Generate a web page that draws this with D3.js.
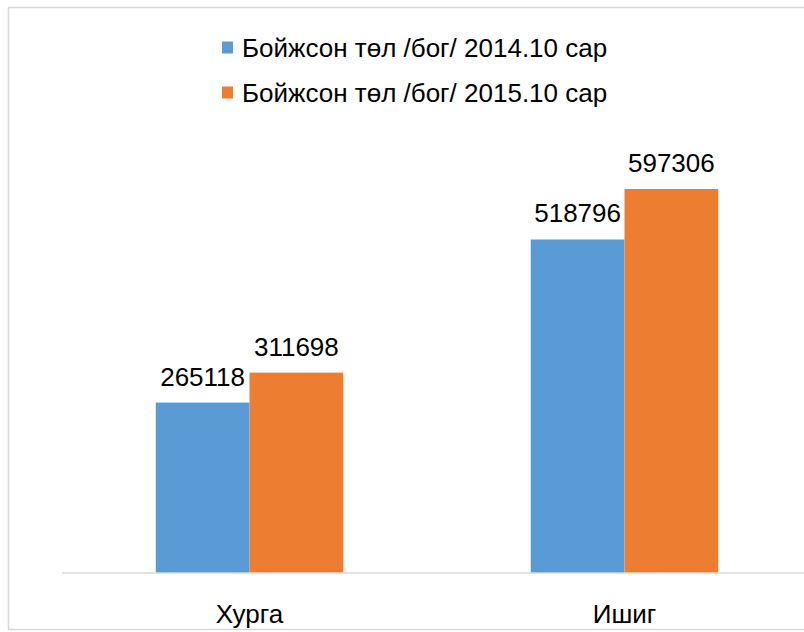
<!DOCTYPE html>
<html>
<head>
<meta charset="utf-8">
<script src="https://cdn.jsdelivr.net/npm/d3@7"></script>
<style>
  body { margin: 0; background: #fff; }
  svg { display: block; font-family: "Liberation Sans", Arial, sans-serif; }
  .axis path { stroke: #d9d9d9; stroke-width: 1.5; }
  .axis text { font-size: 26px; fill: #000; }
</style>
</head>
<body>
<div id="chart"></div>
<script>
// Data
var categories = ['Хурга', 'Ишиг'];
var seriesNames = ['Бойжсон төл /бог/ 2014.10 сар', 'Бойжсон төл /бог/ 2015.10 сар'];
var values2014 = [265118, 518796];
var values2015 = [311698, 597306];
var colors = ['#5b9bd5', '#ed7d31'];

var width = 804, height = 632;
var plot = {left: 62, right: 812, top: 123, bottom: 573};

var svg = d3.select('#chart').append('svg')
  .attr('width', width)
  .attr('height', height);

// chart frame
svg.append('rect')
  .attr('x', 8.5).attr('y', 7.5)
  .attr('width', 810).attr('height', 622)
  .attr('fill', 'none')
  .attr('stroke', '#d9d9d9')
  .attr('stroke-width', 1.5);

var x = d3.scaleBand().domain(categories).range([plot.left, plot.right]);
var xSub = d3.scaleBand().domain(seriesNames).range([0, x.bandwidth()]).paddingOuter(1);
var y = d3.scaleLinear().domain([0, 700000]).range([plot.bottom, plot.top]);

var rows = categories.map(function(c, i) {
  return {cat: c, vals: [values2014[i], values2015[i]]};
});

var groups = svg.selectAll('.cat')
  .data(rows)
  .enter().append('g')
  .attr('class', 'cat')
  .attr('transform', function(d) { return 'translate(' + x(d.cat) + ',0)'; });

var bars = groups.selectAll('.bar')
  .data(function(d) { return d.vals.map(function(v, j) { return {name: seriesNames[j], v: v, j: j}; }); })
  .enter();

bars.append('rect')
  .attr('class', 'bar')
  .attr('x', function(d) { return xSub(d.name); })
  .attr('width', xSub.bandwidth())
  .attr('y', function(d) { return y(d.v); })
  .attr('height', function(d) { return y(0) - y(d.v); })
  .attr('fill', function(d) { return colors[d.j]; });

bars.append('text')
  .attr('x', function(d) { return xSub(d.name) + xSub.bandwidth() / 2; })
  .attr('y', function(d) { return y(d.v) - 17; })
  .attr('text-anchor', 'middle')
  .style('font-size', '26px')
  .text(function(d) { return d.v; });

// x axis
var xAxis = d3.axisBottom(x).tickSizeInner(0).tickSizeOuter(0).tickPadding(31.5);
var gx = svg.append('g')
  .attr('class', 'axis')
  .attr('transform', 'translate(0,' + plot.bottom + ')')
  .call(xAxis);
gx.select('.domain').attr('d', 'M' + plot.left + ',0H' + plot.right);

// legend
var legend = svg.append('g')
  .selectAll('g')
  .data(seriesNames)
  .enter().append('g')
  .attr('transform', function(d, i) { return 'translate(222,' + (41.5 + i * 45) + ')'; });

legend.append('rect')
  .attr('width', 11).attr('height', 12)
  .attr('fill', function(d, i) { return colors[i]; });

legend.append('text')
  .attr('x', 20)
  .attr('y', 15.5)
  .style('font-size', '26px')
  .text(function(d) { return d; });
</script>
</body>
</html>
